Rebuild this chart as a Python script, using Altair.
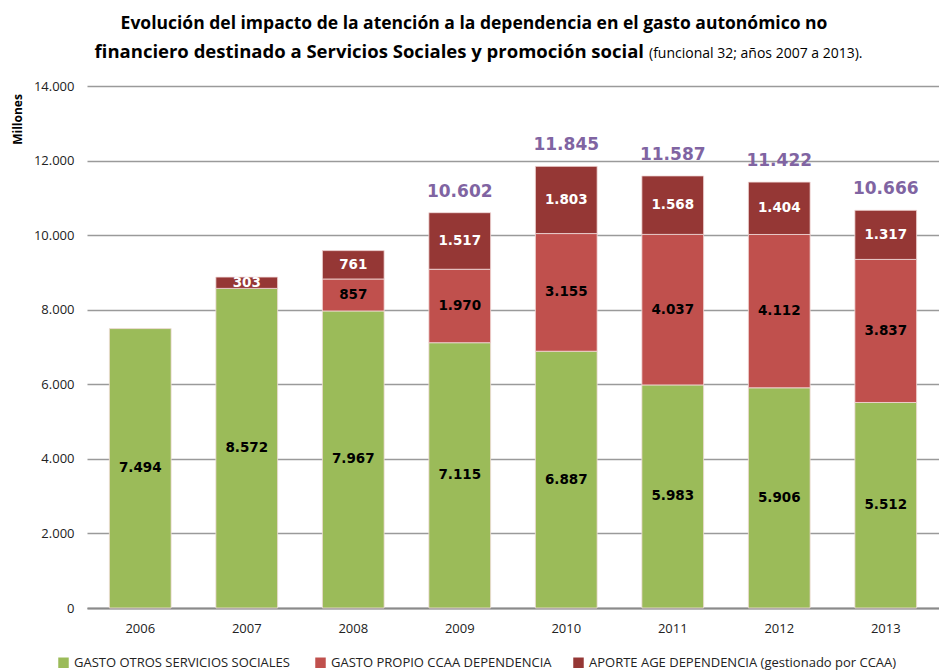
import altair as alt
import pandas as pd

years = ["2006", "2007", "2008", "2009", "2010", "2011", "2012", "2013"]
otros = [7494, 8572, 7967, 7115, 6887, 5983, 5906, 5512]
propio = [0, 0, 857, 1970, 3155, 4037, 4112, 3837]
aporte = [0, 303, 761, 1517, 1803, 1568, 1404, 1317]
total_years = ["2009", "2010", "2011", "2012", "2013"]
totals = [10602, 11845, 11587, 11422, 10666]

series = ["GASTO OTROS SERVICIOS  SOCIALES", "GASTO PROPIO CCAA DEPENDENCIA",
          "APORTE AGE DEPENDENCIA  (gestionado por CCAA)"]
colors = ["#9BBB59", "#C0504D", "#953735"]
label_colors = ["black", "black", "white"]

FONT = "Open Sans, sans-serif"


def fmt(v):
    return f"{v:,}".replace(",", ".")


rows = []
for i, y in enumerate(years):
    for k, vals in enumerate([otros, propio, aporte]):
        v = vals[i]
        if v > 0:
            rows.append({"year": y, "serie": series[k], "ord": k, "value": v,
                         "label": fmt(v), "lc": label_colors[k]})
df = pd.DataFrame(rows)
tot = pd.DataFrame({"year": total_years, "total": totals,
                    "label": [fmt(t) for t in totals]})

W, H = 852, 522
xenc = alt.X("year:N", sort=years,
             scale=alt.Scale(paddingInner=0.42, paddingOuter=0.21),
             axis=alt.Axis(title=None, labelAngle=0, ticks=False, labelPadding=14,
                           labelFontSize=13, labelFont=FONT, labelColor="#222",
                           domainColor="#8a8a8a", domainWidth=2))
yscale = alt.Scale(domain=[0, 14000], nice=False)

base = alt.Chart(df).transform_stack(
    stack="value", groupby=["year"], sort=[alt.SortField("ord")], as_=["v0", "v1"]
).transform_calculate(mid="(datum.v0 + datum.v1) / 2")

bars = base.mark_bar(stroke="#f2dcdb", strokeWidth=0.8).encode(
    x=xenc,
    y=alt.Y("v1:Q", scale=yscale,
            axis=alt.Axis(title="Millones", values=list(range(0, 14001, 2000)),
                          labelExpr="replace(format(datum.value, ','), ',', '.')",
                          ticks=False, labelPadding=13, labelFontSize=13, labelFont=FONT,
                          labelColor="#222", domain=False,
                          gridColor="#9a9a9a", gridWidth=1.3,
                          titleFont=FONT, titleFontSize=12, titleFontWeight="bold",
                          titleX=-70, titleY=33, titleAlign="center",
                          titleBaseline="middle", titleAngle=-90)),
    y2="v0:Q",
    color=alt.Color("serie:N", sort=series,
                    scale=alt.Scale(domain=series, range=colors),
                    legend=alt.Legend(title=None, orient="none", direction="horizontal",
                                      legendX=-30, legendY=570, symbolType="square",
                                      symbolSize=110, symbolStrokeWidth=0,
                                      labelFontSize=13, labelFont=FONT, labelColor="#222",
                                      labelLimit=400, columnPadding=20, columns=3)),
)

seglabels = base.mark_text(fontSize=13.5, fontWeight="bold", font="DejaVu Sans").encode(
    x=alt.X("year:N", sort=years),
    y=alt.Y("mid:Q", scale=yscale),
    text="label:N",
    color=alt.Color("lc:N", scale=None, legend=None),
)

totlabels = alt.Chart(tot).mark_text(
    fontSize=17, fontWeight="bold", color="#8064A2", baseline="bottom", dy=-12,
    font="DejaVu Sans"
).encode(
    x=alt.X("year:N", sort=years),
    y=alt.Y("total:Q", scale=yscale),
    text="label:N",
)

t1 = alt.Chart(pd.DataFrame({"t": ["Evolución del impacto de la atención a la dependencia en el gasto autonómico no"]})).mark_text(
    fontSize=17.5, fontWeight="bold", font=FONT, align="center", baseline="middle", color="black"
).encode(x=alt.value(387), y=alt.value(-62), text="t:N")
t2 = alt.Chart(pd.DataFrame({"t": ["financiero destinado a Servicios Sociales y promoción social"]})).mark_text(
    fontSize=18.5, fontWeight="bold", font=FONT, align="right", baseline="middle", color="black"
).encode(x=alt.value(557), y=alt.value(-34), text="t:N")
t3 = alt.Chart(pd.DataFrame({"t": ["(funcional 32; años 2007 a 2013)."]})).mark_text(
    fontSize=14, font=FONT, align="left", baseline="middle", color="black"
).encode(x=alt.value(562), y=alt.value(-32), text="t:N")

chart = alt.layer(bars, seglabels, totlabels, t1, t2, t3).properties(
    width=W, height=H, padding={"left": 3, "top": 7, "right": 0, "bottom": 0}
).configure_view(stroke=None)

chart.save("out.html", embed_options={"renderer": "svg", "actions": False})
